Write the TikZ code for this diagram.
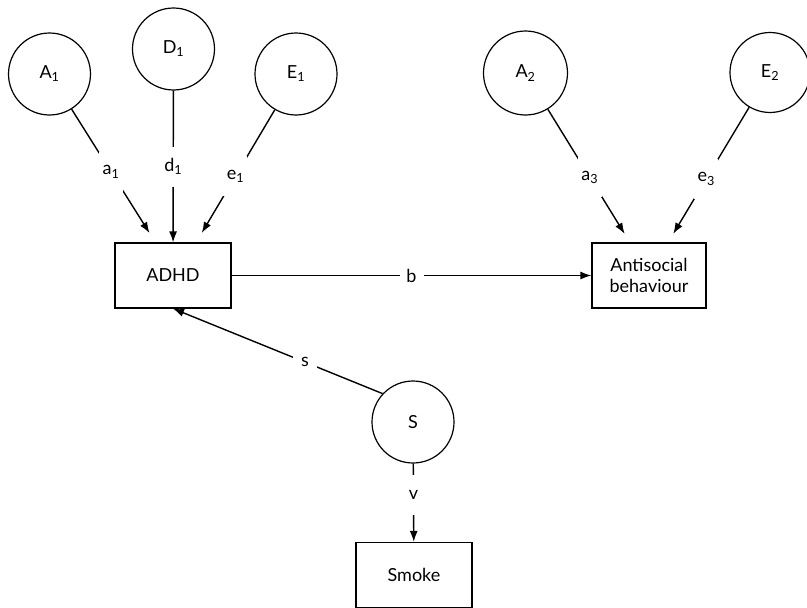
\documentclass[tikz,border=0pt]{standalone}
\usepackage{fontspec}
\setmainfont{Lato}
\usetikzlibrary{arrows.meta, positioning}

\begin{document}
\begin{tikzpicture}[
        x=1pt, y=-1pt,
        font=\fontsize{18}{21}\selectfont,
        latent/.style={circle, draw, line width=1.2pt, minimum size=82pt, inner sep=0pt},
        obs/.style={rectangle, draw, line width=1.2pt, minimum width=116pt, minimum height=65pt, align=center},
        effect/.style={-{Latex[length=11pt, width=8pt]}, line width=1.4pt},
        coef/.style={fill=white, minimum width=24pt, minimum height=40pt, inner sep=0pt}
    ]
    \useasboundingbox (0,0) rectangle (807,608);

    % Latent factors
    \node[latent] (A1) at (49.5,74) {A\textsubscript{1}};
    \node[latent] (D1) at (173.5,49) {D\textsubscript{1}};
    \node[latent] (E1) at (296,74) {E\textsubscript{1}};
    \node[latent, minimum size=84pt] (A2) at (525.5,73) {A\textsubscript{2}};
    \node[latent, minimum size=80pt] (E2) at (770,72.5) {E\textsubscript{2}};
    \node[latent] (S) at (413,422) {S};

    % Observed variables
    \node[obs] (adhd) at (173,275.5) {ADHD};
    \node[obs, minimum width=114pt] (anti) at (649,275.5) {Antisocial\\behaviour};
    \node[obs] (smoke) at (414,575) {Smoke};

    % Paths
    \draw[effect, shorten >=11pt] (A1) -- (adhd.118) node[coef, pos=0.47] {a\textsubscript{1}};
    \draw[effect] (D1) -- (adhd) node[coef, pos=0.5] {d\textsubscript{1}};
    \draw[effect, shorten >=11pt] (E1) -- (adhd.55) node[coef, pos=0.5] {e\textsubscript{1}};
    \draw[effect, shorten >=10pt] (A2) -- (anti.120) node[coef, pos=0.51] {a\textsubscript{3}};
    \draw[effect, shorten >=10pt] (E2) -- (anti.60) node[coef, pos=0.53] {e\textsubscript{3}};
    \draw[effect] (adhd) -- (anti) node[coef, pos=0.5, minimum height=20pt] {b};
    \draw[effect] (S.137) -- (adhd.south) node[coef, pos=0.37] {s};
    \draw[effect] (S) -- (smoke) node[coef, pos=0.4] {v};
\end{tikzpicture}
\end{document}
